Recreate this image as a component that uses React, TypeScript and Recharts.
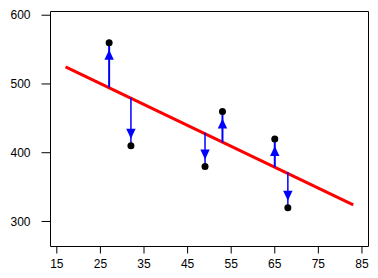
import { ScatterChart, Scatter, XAxis, YAxis, ReferenceLine, ReferenceArea } from "recharts";

const xTicks = [15, 25, 35, 45, 55, 65, 75, 85];
const yTicks = [300, 400, 500, 600];

// observed points and the fitted value under each one
const obsX = [27, 32, 49, 53, 65, 68];
const obsY = [560, 410, 380, 460, 420, 320];
const fitY = [495, 480, 429, 415, 379, 372];

// regression line ends
const lineX = [17, 83];
const lineY = [525, 324];

const X_DOMAIN: [number, number] = [13.55, 86.5];
const Y_DOMAIN: [number, number] = [263.6, 605.4];

const points = obsX.map((x, i) => ({ x, y: obsY[i], fit: fitY[i] }));

const tickStyle = { fill: "#000", fontSize: 12, fontFamily: "'Liberation Sans', Arial, sans-serif" };

function Dot(props: any) {
  const { cx, cy } = props;
  return <circle cx={cx} cy={cy} r={3.5} fill="#000" />;
}

function Head(props: any) {
  const { cx, cy, payload } = props;
  const dir = payload.y > payload.fit ? 1 : -1;
  const tip = cy + dir * 7;
  const base = cy + dir * 17;
  return <polygon points={`${cx},${tip} ${cx - 4.7},${base} ${cx + 4.7},${base}`} fill="#0000ff" />;
}

export default function App() {
  return (
    <div style={{ position: "absolute", left: 0, top: 0, width: 378, height: 278, background: "#fff" }}>
      <ScatterChart width={378} height={278} margin={{ top: 11.5, right: 9.5, bottom: 0, left: 0.5 }}>
        <XAxis
          type="number"
          dataKey="x"
          domain={X_DOMAIN}
          allowDataOverflow
          ticks={xTicks}
          height={31.5}
          axisLine={false}
          tickSize={7}
          tickMargin={6}
          tickLine={{ stroke: "#000" }}
          tick={tickStyle}
        />
        <YAxis
          type="number"
          dataKey="y"
          domain={Y_DOMAIN}
          allowDataOverflow
          ticks={yTicks}
          width={50}
          axisLine={false}
          tickSize={9}
          tickMargin={11}
          tickLine={{ stroke: "#000" }}
          tick={tickStyle}
        />
        <ReferenceArea
          x1={X_DOMAIN[0]}
          x2={X_DOMAIN[1]}
          y1={Y_DOMAIN[0]}
          y2={Y_DOMAIN[1]}
          fill="none"
          fillOpacity={0}
          stroke="#000"
          strokeWidth={1}
          ifOverflow="visible"
        />
        <ReferenceLine
          segment={[
            { x: lineX[0], y: lineY[0] },
            { x: lineX[1], y: lineY[1] },
          ]}
          stroke="#ff0000"
          strokeWidth={3}
        />
        {points.map((p, i) => (
          <ReferenceLine
            key={i}
            segment={[
              { x: p.x, y: p.fit },
              { x: p.x, y: p.y },
            ]}
            stroke="#0000ff"
            strokeWidth={p.y > p.fit ? 2 : 1.5}
          />
        ))}
        <Scatter data={points} shape={Head} isAnimationActive={false} />
        <Scatter data={points} shape={Dot} isAnimationActive={false} />
      </ScatterChart>
    </div>
  );
}
